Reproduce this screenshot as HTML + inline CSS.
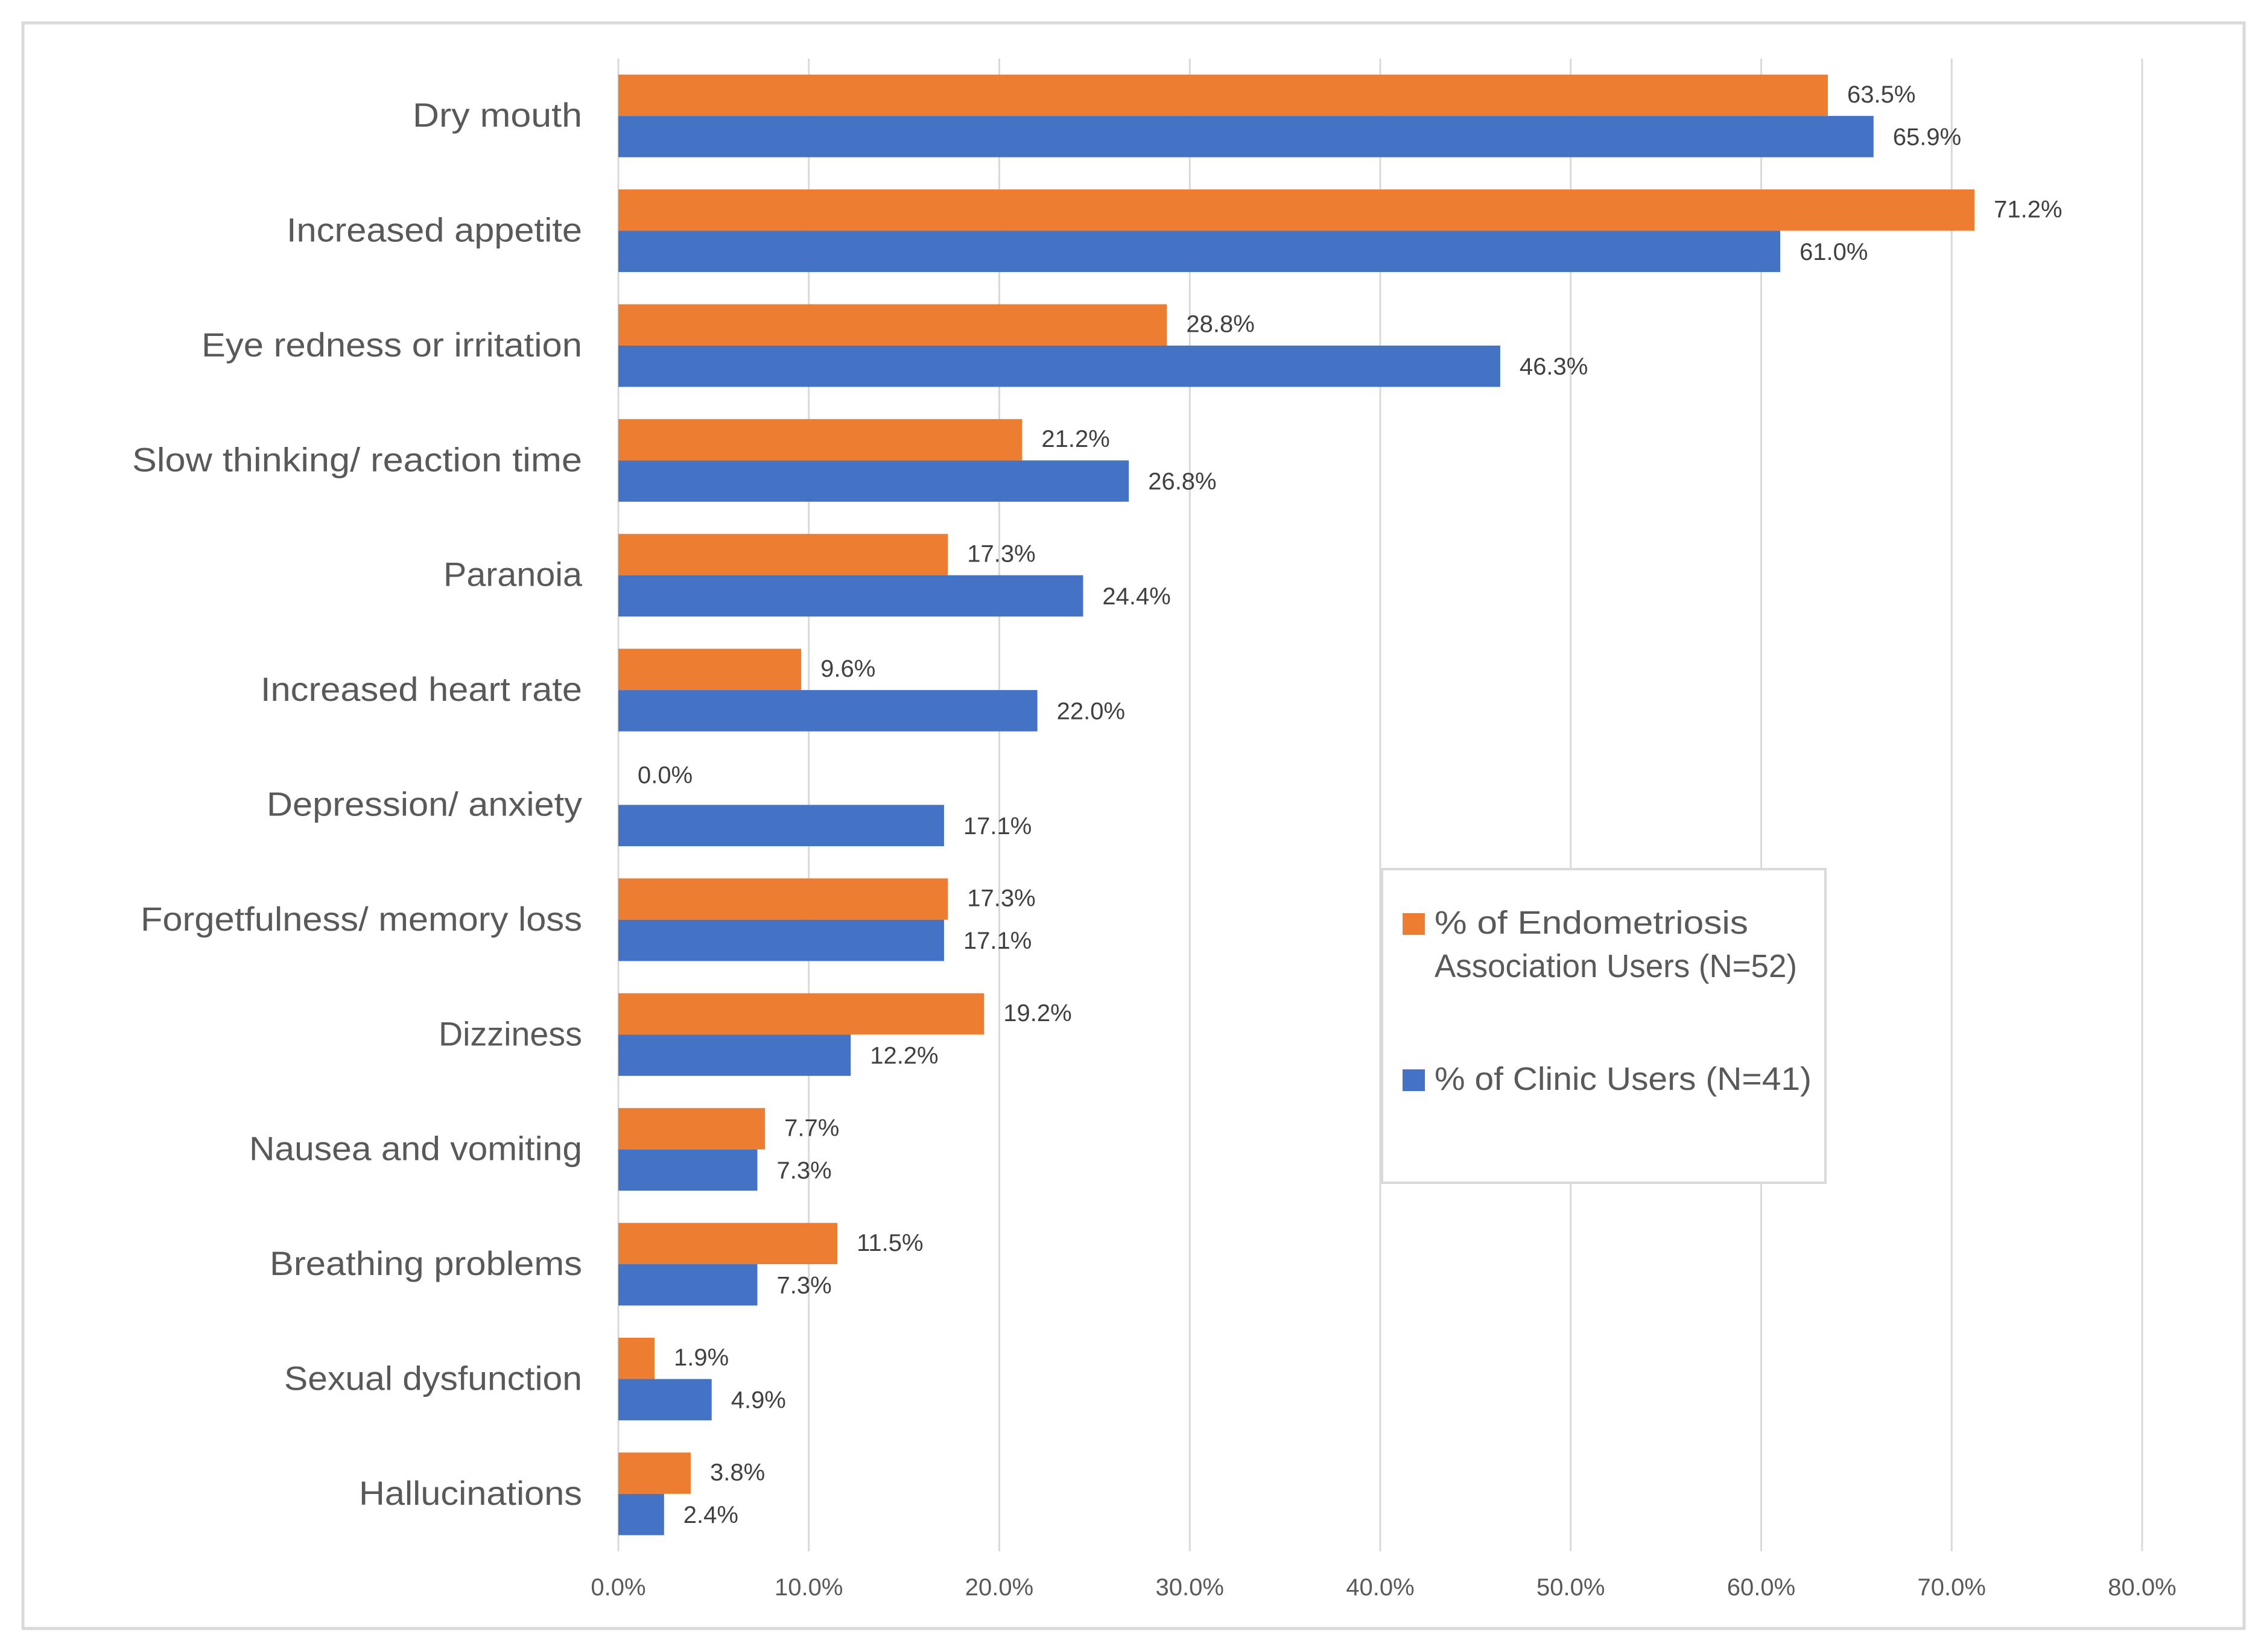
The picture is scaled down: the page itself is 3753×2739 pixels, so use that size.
<!DOCTYPE html>
<html><head><meta charset="utf-8"><style>
html,body{margin:0;padding:0;background:#fff;}
svg{display:block;font-family:"Liberation Sans",sans-serif;}
</style></head><body>
<svg id="chart" width="3753" height="2739" viewBox="0 0 3753 2739" xmlns="http://www.w3.org/2000/svg">
<rect x="38" y="38" width="3682" height="2662" fill="#fff" stroke="#d9d9d9" stroke-width="5"/>
<g id="grid"></g><g id="bars"></g><g id="labels"></g>
<g>
<rect x="2291" y="1441" width="735" height="520" fill="#fff" stroke="#d9d9d9" stroke-width="4"/>
<rect x="2325" y="1514" width="37" height="36" fill="#ed7d31"/>
<text x="2378" y="1548" font-size="54" fill="#595959" textLength="520" lengthAdjust="spacingAndGlyphs">% of Endometriosis</text>
<text x="2378" y="1620" font-size="54" fill="#595959" textLength="601" lengthAdjust="spacingAndGlyphs">Association Users (N=52)</text>
<rect x="2325" y="1773" width="37" height="36" fill="#4472c4"/>
<text x="2378" y="1807" font-size="54" fill="#595959" textLength="625" lengthAdjust="spacingAndGlyphs">% of Clinic Users (N=41)</text>
</g>
</svg>
<script>
const categories=["Dry mouth","Increased appetite","Eye redness or irritation","Slow thinking/ reaction time","Paranoia","Increased heart rate","Depression/ anxiety","Forgetfulness/ memory loss","Dizziness","Nausea and vomiting","Breathing problems","Sexual dysfunction","Hallucinations"];
const endoValues=[63.5,71.2,28.8,21.2,17.3,9.6,0.0,17.3,19.2,7.7,11.5,1.9,3.8];
const clinicValues=[65.9,61.0,46.3,26.8,24.4,22.0,17.1,17.1,12.2,7.3,7.3,4.9,2.4];
const ticks=[0,10,20,30,40,50,60,70,80];
const labelWidths=[281,490,631,746,230,533,523,732,238,552,518,494,370];

const NS="http://www.w3.org/2000/svg";
const X0=1025,X1=3551,XMAX=80,Y0=97,Y1=2572;
const x=v=>X0+(v/XMAX)*(X1-X0);
const band=(Y1-Y0)/categories.length;
const y=i=>Y0+i*band;
const barH=68.5;
function mk(tag,attrs,parent){const e=document.createElementNS(NS,tag);for(const k in attrs)e.setAttribute(k,attrs[k]);parent.appendChild(e);return e;}
const grid=document.getElementById('grid'),bars=document.getElementById('bars'),labels=document.getElementById('labels');
ticks.forEach(t=>{
  const l=mk('line',{x1:x(t),x2:x(t),y1:Y0,y2:Y1,stroke:'#d9d9d9','stroke-width':3},grid);
  
  
  const tx=mk('text',{x:x(t),y:2645,'font-size':40,fill:'#595959','text-anchor':'middle'},labels);
  tx.textContent=t.toFixed(1)+'%';
  
  
});
categories.forEach((c,i)=>{
  const cy=y(i)+band/2;
  const t=mk('text',{x:965,y:cy+18,'font-size':56,fill:'#595959','text-anchor':'end',textLength:labelWidths[i],lengthAdjust:'spacingAndGlyphs'},labels);
  t.textContent=c;
  
  
  const oy=cy-barH, by=cy;
  const ob=mk('rect',{x:X0,y:oy,width:Math.max(0,x(endoValues[i])-X0),height:barH,fill:'#ed7d31'},bars);
  
  
  const bb=mk('rect',{x:X0,y:by,width:Math.max(0,x(clinicValues[i])-X0),height:barH,fill:'#4472c4'},bars);
  
  
  const ox=x(endoValues[i])+32;
  const ol=mk('text',{x:ox,y:oy+barH/2+12-(endoValues[i]===0?14:0),'font-size':40,fill:'#404040'},labels);
  ol.textContent=endoValues[i].toFixed(1)+'%';
  
  
  const bl=mk('text',{x:x(clinicValues[i])+32,y:by+barH/2+14,'font-size':40,fill:'#404040'},labels);
  bl.textContent=clinicValues[i].toFixed(1)+'%';
  
  
});
</script>
</body></html>
